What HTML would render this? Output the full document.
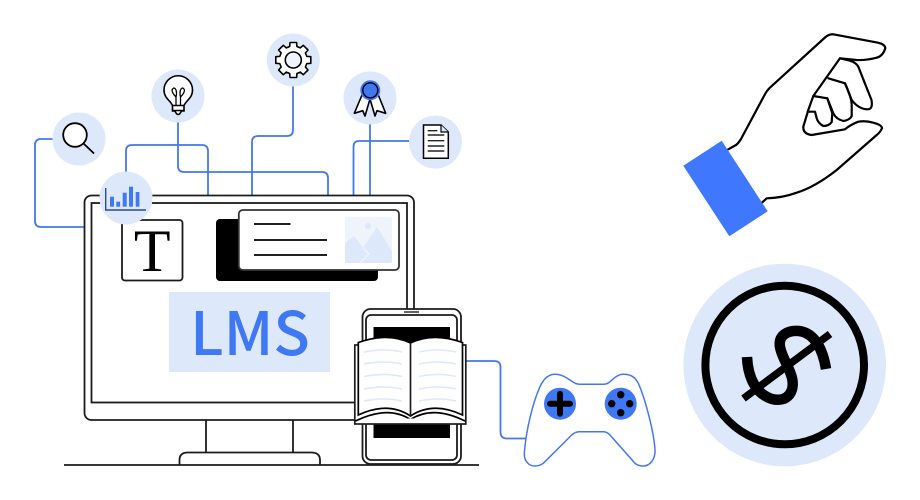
<!DOCTYPE html>
<html><head><meta charset="utf-8"><style>html,body{margin:0;padding:0;background:#fff}svg{display:block}</style></head><body>
<svg width="920" height="500" viewBox="0 0 920 500" xmlns="http://www.w3.org/2000/svg">
<!-- connectors -->
<g fill="none" stroke="#4478ea" stroke-width="1.8">
<path d="M53 139H41Q35 139 35 145V221Q35 227 41 227H85"/>
<path d="M126 172V151Q126 145 132 145H202Q208 145 208 151V196"/>
<path d="M178 122V166Q178 172 184 172H322Q328 172 328 178V196"/>
<path d="M293 86V130Q293 136 287 136H258Q252 136 252 142V196"/>
<path d="M370 124V196"/>
<path d="M409 141H359Q353.500 141 353.500 147V196"/>
<path d="M466 361H494Q500.500 361 500.500 367V432Q500.500 438.500 507 438.500H527"/>
</g>
<!-- monitor -->
<g fill="#fff" stroke="#1c1c1c" stroke-width="1.800">
<rect x="84.500" y="195.500" width="329.500" height="224.500" rx="7"/>
<rect x="91.500" y="203" width="315.500" height="199.500" fill="#fff"/>
<path d="M206 420V452.500M293 420V452.500" fill="none"/>
<path d="M179.500 465V460Q179.500 452.500 188 452.500H311Q320 452.500 320 460V465"/>
<path d="M64 465H479" fill="none"/>
<rect x="122" y="220" width="60.500" height="60.500" rx="3"/>
</g>
<text x="152.200" y="271" font-family="'Liberation Serif',serif" font-size="60" text-anchor="middle" fill="#000">T</text>
<rect x="216" y="219" width="162" height="62" rx="4" fill="#000"/>
<rect x="238.800" y="210" width="160.200" height="60" rx="4" fill="#fff" stroke="#333" stroke-width="1.800"/>
<path d="M254 224H290.500M254 240H327M254 255H327" stroke="#000" stroke-width="1.700" fill="none"/>
<rect x="345" y="217" width="47" height="46" rx="2" fill="#eef3fc"/>
<path d="M345 263V243L354 236L363 248L377 227L392 251V261Q392 263 390 263Z" fill="#dde8fb"/>
<path d="M363 248L369 254L360 263" fill="none" stroke="#eef3fc" stroke-width="1.500"/>
<circle cx="368" cy="226" r="3" fill="#dde8fb"/>
<rect x="169" y="292" width="161" height="80" fill="#dde8fb"/>
<text x="250" y="355" font-family="'Noto Sans CJK SC','Liberation Sans',sans-serif" font-size="60" font-weight="500" text-anchor="middle" fill="#3f78f5">LMS</text>
<!-- circles -->
<g fill="#dde8fb">
<circle cx="79" cy="139" r="26.500"/><circle cx="178" cy="96" r="26.500"/><circle cx="126" cy="198" r="26.500"/>
<circle cx="293.300" cy="60" r="26.500"/><circle cx="370" cy="98" r="26.500"/><circle cx="435.500" cy="142" r="26.500"/>
</g>
<!-- search -->
<circle cx="75" cy="135" r="11.800" fill="#fff" stroke="#000" stroke-width="1.800"/>
<path d="M83.500 143.500L94 153.500" stroke="#000" stroke-width="1.800" fill="none"/>
<!-- bulb -->
<path d="M172.500 111V105.500C170 100 164 98 164 90A14.200 14.200 0 0 1 192.500 90C192.500 98 186.500 100 184 105.500V111Z" fill="#fff" stroke="#000" stroke-width="1.600"/>
<path d="M172.500 105.500H184M172.500 110.500H184M175 111Q178 118 181.500 111" fill="#fff" stroke="#000" stroke-width="1.600"/>
<path d="M176 105V97Q172 93 172 90Q174 86 176 90Q177 93 176 97M180.500 105V97Q184.500 93 184.500 90Q182.500 86 180.500 90Q179.500 93 180.500 97" fill="none" stroke="#000" stroke-width="1.300"/>
<!-- chart -->
<g fill="#3f78f5"><rect x="110" y="196.700" width="4" height="10"/><rect x="116.300" y="201.700" width="3.800" height="5"/><rect x="122.700" y="192.700" width="4" height="14"/><rect x="129" y="186.700" width="4" height="20"/><rect x="135.700" y="192" width="3.700" height="14.700"/></g>
<path d="M105.700 188V210H146" fill="none" stroke="#2b4a8f" stroke-width="1.400"/>
<!-- gear -->
<g transform="translate(293.300 60)"><polygon points="13.520,-3.620 17.500,-3.300 17.500,3.300 13.520,3.620 12.120,7 14.700,10 10,14.700 7,12.120 3.620,13.520 3.300,17.500 -3.300,17.500 -3.620,13.520 -7,12.120 -10,14.700 -14.700,10 -12.120,7 -13.520,3.620 -17.500,3.300 -17.500,-3.300 -13.520,-3.620 -12.120,-7 -14.700,-10 -10,-14.700 -7,-12.120 -3.620,-13.520 -3.300,-17.500 3.300,-17.500 3.620,-13.520 7,-12.120 10,-14.700 14.700,-10 12.120,-7" fill="#fff" stroke="#000" stroke-width="1.600" stroke-linejoin="round"/><circle r="8" fill="#eef3fc" stroke="#000" stroke-width="1.600"/></g>
<!-- ribbon -->
<path d="M362 95L354.300 113.300L362.700 110.700L365 116L370 99L375 116L377 110.700L385.700 113.300L378.300 95Z" fill="#fff" stroke="#000" stroke-width="1.600" stroke-linejoin="round"/>
<circle cx="370.300" cy="90.300" r="10" fill="#3f78f5"/><circle cx="370.300" cy="90.300" r="7.500" fill="#3f78f5" stroke="#000" stroke-width="1.400"/>
<!-- doc -->
<path d="M423.500 125H441L448.300 132V158.300H423.500Z" fill="#fff" stroke="#000" stroke-width="1.500"/>
<path d="M441 125V132H448.300" fill="#dde8fb" stroke="#000" stroke-width="1.200"/>
<path d="M427.700 130.700H437.300M427.700 135H444.300M427.700 140.700H444.300M427.700 146H444.300M427.700 151H444.300" stroke="#222" stroke-width="1.400" fill="none"/>
<!-- phone -->
<rect x="362.500" y="309" width="98.500" height="155" rx="8" fill="#fff" stroke="#1c1c1c" stroke-width="1.800"/>
<rect x="366" y="315" width="91" height="145" rx="5" fill="#fff" stroke="#1c1c1c" stroke-width="1.800"/>
<path d="M404 312H419" stroke="#333" stroke-width="1.500"/>
<rect x="373.500" y="327" width="76.500" height="111" fill="#000"/>
<!-- book -->
<rect x="354.800" y="345" width="111" height="79" fill="#fff" stroke="#1c1c1c" stroke-width="1.700"/>
<path d="M358.300 342.500Q388 332 410.500 343Q433 332 462.500 342.500V415Q433 401 410.500 416Q388 401 358.300 415Z" fill="#fff" stroke="#000" stroke-width="1.700"/>
<path d="M410.500 343V416" stroke="#1c1c1c" stroke-width="1.700" fill="none"/>
<path d="M355.500 421Q388 405 410.500 419.500Q433 405 465 421" fill="none" stroke="#000" stroke-width="1.700"/>
<rect x="403.500" y="418.500" width="13.500" height="3.500" fill="#fff"/>
<g fill="none" stroke="#dde8fb" stroke-width="1.600">
<path d="M364 352Q384 348 402 352M364 364Q384 360 402 364M364 376.500Q384 372.500 402 376.500M364 389Q384 385 402 389M364 401Q384 397 402 401"/>
<path d="M419 352Q438 348 456 352M419 364Q438 360 456 364M419 376.500Q438 372.500 456 376.500M419 389Q438 385 456 389M419 401Q438 397 456 401"/>
</g>
<!-- gamepad -->
<path d="M555 374.300C563 374.300 568 379 573.300 382.300C576 384 578 384.300 580 384.300H603.300C606 384.300 608 383.500 610 381.700C614 378 618 374.300 623.300 374.300C631 374.300 635 377 638.300 383.300C645 398 654 432 655 450C655.500 459 650 466 643.300 466C639.500 466 637 465 635 463.300L610 435C608 433 606.500 431.700 604 431.700H579C576.500 431.700 574 433 571.700 435L543.300 463.300C541 465 539 466 535 466C528 466 524 460 524.300 453.300C526 430 533 402 540 386.700C544 378 549 374.300 555 374.300Z" fill="#fff" stroke="#4478ea" stroke-width="1.500"/>
<circle cx="560" cy="403.700" r="16" fill="#3f78f5"/><circle cx="620.700" cy="403.700" r="16" fill="#3f78f5"/>
<path d="M550 403.700H570M560 393.700V413.700" stroke="#000" stroke-width="6" stroke-linecap="round"/>
<g fill="#000"><circle cx="620.700" cy="394.700" r="3.700"/><circle cx="620.700" cy="412.700" r="3.700"/><circle cx="611.700" cy="403.700" r="3.700"/><circle cx="629.700" cy="403.700" r="3.700"/></g>
<!-- hand -->
<g fill="#fff" stroke="#000" stroke-width="2.200" stroke-linejoin="round" stroke-linecap="round">
<path d="M728.300 149.300L736 145Q738.300 143.300 741 139L764 96Q767 90 771 86.700L825 37.500Q829 34 833.300 34.300L878 42.700Q885.300 44.500 885.300 48.300Q883 56 876.700 57.700Q866 60.500 856.700 60L840 58.300L813.300 96L808.300 110L803.300 126.700Q803 134 811.700 135L845 129.300Q850 125 858.300 121.700Q866 120.500 873.300 122.700Q882 125 882 128.300Q880 132.500 876.700 135L836.700 170Q815 187 796.700 192.700Q782 198 766.700 198.300L762.300 202.300"/>
<path d="M840 58.300L850 60.700Q856 62.500 858.300 66.700L871.500 100Q873 109 868 109.300Q859 109.500 851.700 100L845 83.300L828.300 78.300" fill="none"/>
<path d="M845 83.300Q851 96 851.700 104V116Q850 120 843.300 121Q836 119 833.300 113.300L827.300 98.300L813.300 96" fill="none"/>
<path d="M827.300 98.300L832.300 113.300L831.700 122Q829 126 823.300 126Q818 123 816.700 118.300L815 111.700H807.700" fill="none"/>
</g>
<polygon points="683.300,165.700 721.700,140.700 767.700,211.300 729.300,236.300" fill="#3f78ff"/>
<!-- coin -->
<circle cx="784.700" cy="365" r="101.300" fill="#dde8fb"/>
<circle cx="784.700" cy="365" r="79.300" fill="none" stroke="#000" stroke-width="8"/>
<path d="M743.500 398.500L830 334" stroke="#000" stroke-width="7.500" fill="none"/>
<path d="M747 357C748 378 756 394 772 399C788 403 795 391 792 378C789 366 782 358 780 347C778 335 788 330 799 331C815 333 823 350 826 369" fill="none" stroke="#000" stroke-width="10.500"/>
</svg>
</body></html>
